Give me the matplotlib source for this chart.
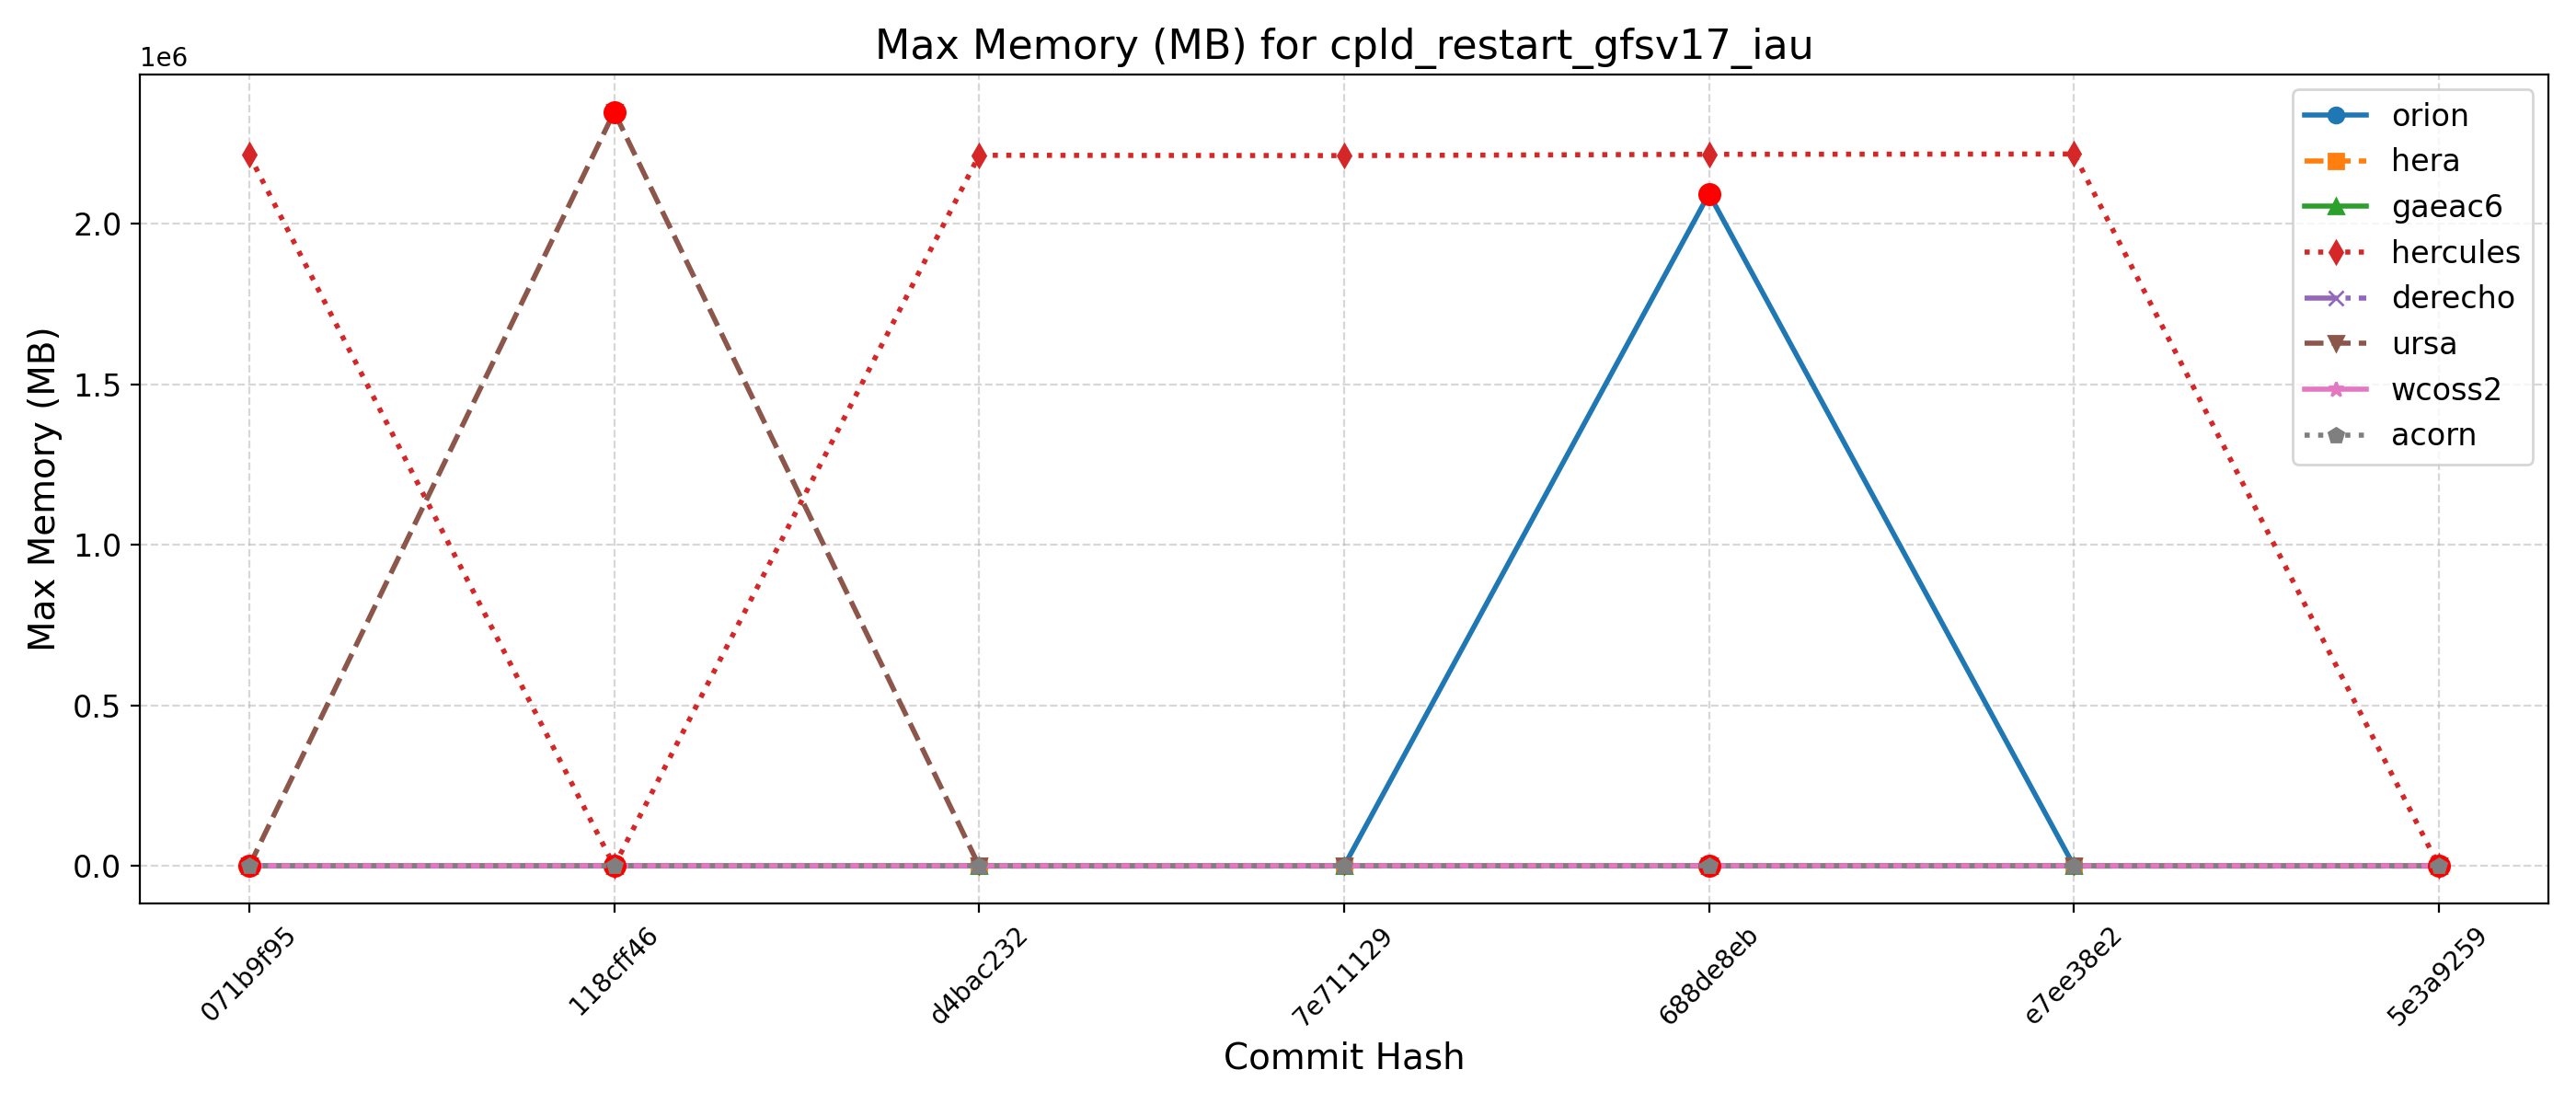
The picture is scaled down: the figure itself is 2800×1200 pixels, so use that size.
import matplotlib
matplotlib.use("Agg")
import matplotlib.pyplot as plt

commits = ["071b9f95", "118cff46", "d4bac232", "7e711129", "688de8eb", "e7ee38e2", "5e3a9259"]

orion = [0, 0, 0, 0, 2.093e6, 0, 0]
hera = [0, 0, 0, 0, 0, 0, 0]
gaeac6 = [0, 0, 0, 0, 0, 0, 0]
hercules = [2.214e6, 0, 2.213e6, 2.212e6, 2.216e6, 2.217e6, 0]
derecho = [0, 0, 0, 0, 0, 0, 0]
ursa = [0, 2.348e6, 0, 0, 0, 0, 0]
wcoss2 = [0, 0, 0, 0, 0, 0, 0]
acorn = [0, 0, 0, 0, 0, 0, 0]

flag_idx = [0, 1, 1, 4, 4, 6]
flag_val = [0, 0, 2.348e6, 0, 2.093e6, 0]

series = [
    ("orion", orion, "o", "-"),
    ("hera", hera, "s", "--"),
    ("gaeac6", gaeac6, "^", "-"),
    ("hercules", hercules, "d", ":"),
    ("derecho", derecho, "x", "-."),
    ("ursa", ursa, "v", "--"),
    ("wcoss2", wcoss2, "*", "-"),
    ("acorn", acorn, "p", ":"),
]

fig, ax = plt.subplots(figsize=(14, 6), dpi=200)
x = list(range(len(commits)))
for name, vals, mk, ls in series:
    if name == "acorn":
        ax.plot([x[i] for i in flag_idx], flag_val, "o", color="red", markersize=8, zorder=2)
    ax.plot(x, vals, marker=mk, linestyle=ls, linewidth=2, markersize=6, label=name)

ax.set_xticks(x)
ax.set_xticklabels(commits, rotation=45, fontsize=10)
ax.tick_params(axis="y", labelsize=12)
ax.set_title("Max Memory (MB) for cpld_restart_gfsv17_iau", fontsize=16)
ax.set_xlabel("Commit Hash", fontsize=14)
ax.set_ylabel("Max Memory (MB)", fontsize=14)
ax.grid(True, linestyle="--", alpha=0.5)
ax.legend(loc="upper right", fontsize=12)
fig.tight_layout()
fig.savefig("out.png")
